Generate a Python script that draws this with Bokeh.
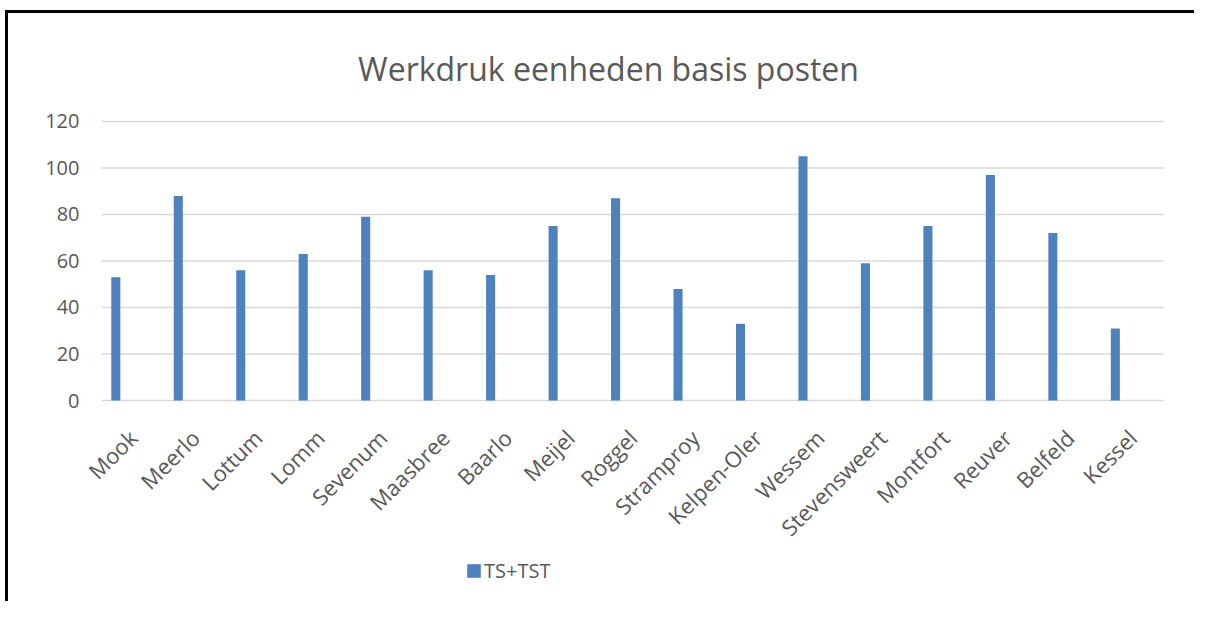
import math
from bokeh.plotting import figure
from bokeh.models import ColumnDataSource, Range1d, FactorRange, FixedTicker, Legend, LegendItem, Label
from bokeh.core.properties import value
from bokeh.transform import dodge
from bokeh.embed import file_html
from bokeh.resources import INLINE

categories = ["Mook", "Meerlo", "Lottum", "Lomm", "Sevenum", "Maasbree", "Baarlo", "Meijel",
              "Roggel", "Stramproy", "Kelpen-Oler", "Wessem", "Stevensweert", "Montfort",
              "Reuver", "Belfeld", "Kessel"]
ts_tst = [53, 88, 56, 63, 79, 56, 54, 75, 87, 48, 33, 105, 59, 75, 97, 72, 31]
y_ticks = [0, 20, 40, 60, 80, 100, 120]
series_name = "TS+TST"
title_text = "Werkdruk eenheden basis posten"

FONT = "Open Sans"
GREY = "#595959"
BLUE = "#4F81BD"

src = ColumnDataSource(data=dict(cat=categories, val=ts_tst))
grid_src = ColumnDataSource(data=dict(y=y_ticks,
                                      c0=[categories[0]] * len(y_ticks),
                                      c1=[categories[-1]] * len(y_ticks)))

# frame covers the whole canvas height; value axis 0..120 occupies the plot area band
p = figure(width=1194, height=601, output_backend="svg", toolbar_location=None,
           x_range=FactorRange(*categories, range_padding=0.2722, range_padding_units="absolute"),
           y_range=Range1d(-86.45, 172.04),
           min_border_left=84, min_border_right=14, min_border_top=0, min_border_bottom=0)

p.border_fill_color = None
p.background_fill_color = None
p.outline_line_color = None
p.styles = {"box-shadow": "inset 5px 10px 0 0 white, inset 8px 13px 0 0 black"}

# horizontal gridlines spanning the category area
p.segment(x0=dodge("c0", -0.5, range=p.x_range), x1=dodge("c1", 0.5, range=p.x_range),
          y0="y", y1="y", source=grid_src, line_color="#D9D9D9", line_width=1.3)

r = p.vbar(x=dodge("cat", -0.271, range=p.x_range), top="val", width=0.145, bottom=0,
           source=src, fill_color=BLUE, line_color=None)

# category labels, rotated 45 degrees under the zero line
p.text(x="cat", y=0, text="cat", source=src, angle=math.pi / 4, y_offset=33,
       text_align="right", text_baseline="middle", text_font=value(FONT),
       text_font_size="22px", text_color=GREY)

title = Label(x=8.116, y=142.8, text=title_text, text_align="center",
              text_baseline="alphabetic", text_font=FONT, text_font_size="32px", text_color=GREY)
p.add_layout(title)

p.xaxis.visible = False
p.xgrid.grid_line_color = None
p.ygrid.grid_line_color = None

p.yaxis.ticker = FixedTicker(ticks=y_ticks)
p.yaxis.axis_line_color = None
p.yaxis.major_tick_line_color = None
p.yaxis.minor_tick_line_color = None
p.yaxis.major_tick_out = 0
p.yaxis.major_label_standoff = 5
p.yaxis.major_label_text_font = FONT
p.yaxis.major_label_text_font_size = "20px"
p.yaxis.major_label_text_color = GREY

legend = Legend(items=[LegendItem(label=series_name, renderers=[r])],
                location=(381, 17), orientation="horizontal",
                glyph_width=17, glyph_height=17, label_height=13, label_standoff=2,
                padding=0, margin=0, spacing=0,
                border_line_color=None, background_fill_alpha=0,
                label_text_font=FONT, label_text_font_size="20px", label_text_color=GREY)
p.add_layout(legend, "center")

open("out.html", "w").write(file_html(p, INLINE))
